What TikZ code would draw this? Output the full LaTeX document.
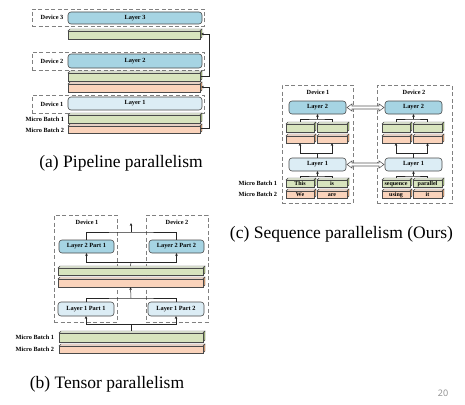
\documentclass[tikz,border=0pt]{standalone}
\usepackage{fontspec}
\setmainfont{Liberation Serif}
\newfontfamily\pnfont{Open Sans}
\usetikzlibrary{arrows.meta,calc}
\definecolor{edge}{HTML}{4A4A4A}
\definecolor{greenf}{HTML}{D8E4BE}
\definecolor{greent}{HTML}{EAF0DD}
\definecolor{greens}{HTML}{A3B97A}
\definecolor{orangef}{HTML}{FAD3BB}
\definecolor{oranget}{HTML}{FDE5D7}
\definecolor{oranges}{HTML}{DB9E72}
\definecolor{ldark}{HTML}{A6D4E3}
\definecolor{llight}{HTML}{DCEDF5}
\tikzset{
  every node/.style={inner sep=0pt, outer sep=0pt},
  lbl/.style={font=\fontsize{6.3}{7}\selectfont\bfseries},
  barlbl/.style={font=\fontsize{6}{7}\selectfont\bfseries, text height=4.1pt, text depth=0.9pt},
  dev/.style={draw=black!50, dash pattern=on 4pt off 2.5pt, line width=0.9pt},
  layerdark/.style={draw=edge, fill=ldark, rounded corners=3pt, line width=0.6pt, lbl},
  layerlight/.style={draw=edge, fill=llight, rounded corners=3pt, line width=0.6pt, lbl},
  conn/.style={draw=black!85, line width=0.5pt},
  arr/.style={conn, -{Stealth[length=3pt,width=2.6pt]}},
  fatarrow/.style={draw=black!65, fill=white, line width=0.6pt, line join=miter},
  capt/.style={font=\fontsize{17.5}{20}\selectfont, anchor=base},
}
% box node: name x1 y1 x2 y2 style text
\newcommand\mkbox[7]{%
  \node[#6, minimum width={(#4-#2)*1pt}, minimum height={(#5-#3)*1pt}] (#1) at ({(#2+#4)/2},{(#3+#5)/2}) {#7};}
% 3D bar: name x1 y1 x2 y2 colour text
\newcommand\mkbar[7]{%
  \filldraw[draw=edge, fill=#6t, line width=0.4pt] (#2,#3) -- (#2+2,#3-2) -- (#4+2,#3-2) -- (#4,#3) -- cycle;
  \filldraw[draw=edge, fill=#6s, line width=0.4pt] (#4,#3) -- (#4+2,#3-2) -- (#4+2,#5-2) -- (#4,#5) -- cycle;
  \mkbox{#1}{#2}{#3}{#4}{#5}{draw=edge, fill=#6f, line width=0.4pt, barlbl}{#7}
  \coordinate (#1-t) at ({(#2+#4)/2},#3-2);
  \coordinate (#1-r) at (#4+1,{(#3+#5)/2-1});}
% hollow double arrow between two nodes (left east, right west)
\newcommand\fatarrow[2]{%
  \draw[fatarrow] ([xshift=1pt]#1.east) -- ++(5,-3.6) -- ++(0,2.1)
    -- ($(#2.west)+(-6,-1.5)$) -- ++(0,-2.1) -- ([xshift=-1pt]#2.west)
    -- ++(-5,3.6) -- ++(0,-2.1) -- ($(#1.east)+(6,1.5)$) -- ++(0,2.1) -- cycle;}
\begin{document}
\begin{tikzpicture}[x=1pt,y=-1pt]
\useasboundingbox (0,0) rectangle (465,404);
% ---------------- (a) Pipeline ----------------
\mkbox{ad3}{32}{9}{204}{26}{dev}{}
\node[lbl] (ad3l) at (52,17.5) {Device 3};
\mkbox{al3}{68}{12}{202}{24}{layerdark}{Layer 3}
\mkbar{ag3}{68}{31}{200}{39}{green}{}
\mkbox{ad2}{32}{52}{204}{70}{dev}{}
\node[lbl] (ad2l) at (52,61) {Device 2};
\mkbox{al2}{68}{54}{202}{68}{layerdark}{Layer 2}
\mkbar{ag2}{68}{73}{200}{81}{green}{}
\mkbar{ao2}{68}{84}{200}{92}{orange}{}
\mkbox{ad1}{32}{95}{204}{113}{dev}{}
\node[lbl] (ad1l) at (52,104) {Device 1};
\mkbox{al1}{68}{97}{202}{110}{layerlight}{Layer 1}
\mkbar{amb1}{68}{115}{200}{123}{green}{}
\mkbar{amb2}{68}{126}{200}{133}{orange}{}
\node[lbl, anchor=east] (amb1l) at (64,119) {Micro Batch 1};
\node[lbl, anchor=east] (amb2l) at (64,130) {Micro Batch 2};
\draw[arr] (ag2-r) -- ++(8,0) |- (ag3-r);
\draw[arr] (amb2-r) -- ++(8,0) |- (ao2-r);
\node[capt] (capa) at (121,167) {(a) Pipeline parallelism};
% ---------------- (b) Tensor ----------------
\mkbox{bd1}{54}{215}{117}{322}{dev}{}
\mkbox{bd2}{146}{215}{208}{322}{dev}{}
\node[lbl] (bd1l) at (87,222) {Device 1};
\node[lbl] (bd2l) at (177,222) {Device 2};
\mkbox{bl2a}{59}{240}{114}{253}{layerdark}{Layer 2 Part 1}
\mkbox{bl2b}{149}{240}{204}{253}{layerdark}{Layer 2 Part 2}
\mkbar{bg}{58}{268}{203}{275}{green}{}
\mkbar{bo}{58}{279}{203}{287}{orange}{}
\mkbox{bl1a}{58}{302}{114}{316}{layerlight}{Layer 1 Part 1}
\mkbox{bl1b}{148}{302}{204}{316}{layerlight}{Layer 1 Part 2}
\mkbar{bmb1}{59}{333}{203}{342}{green}{}
\mkbar{bmb2}{59}{346}{203}{353}{orange}{}
\node[lbl, anchor=east] (bmb1l) at (54,337.5) {Micro Batch 1};
\node[lbl, anchor=east] (bmb2l) at (54,349.5) {Micro Batch 2};
\coordinate (bj1) at (131,324);
\coordinate (bj2) at (131,298);
\coordinate (bj3) at (131,262);
\coordinate (bj4) at (131,232);
\coordinate (btip) at (131,223);
\draw[conn] (bmb1-t) -- (bj1);
\draw[arr] (bj1) -| (bl1a.south);
\draw[arr] (bj1) -| (bl1b.south);
\draw[conn] (bl1a.north) |- (bj2) -| (bl1b.north);
\draw[arr] (bj2) -- (bo.south);
\draw[conn] (bg-t) -- (bj3);
\draw[arr] (bj3) -| (bl2a.south);
\draw[arr] (bj3) -| (bl2b.south);
\draw[conn] (bl2a.north) |- (bj4) -| (bl2b.north);
\draw[arr] (bj4) -- (btip);
\node[capt] (capb) at (107,388) {(b) Tensor parallelism};
% ---------------- (c) Sequence ----------------
\mkbox{cd1}{282}{85}{353}{203}{dev}{}
\mkbox{cd2}{377}{85}{452}{203}{dev}{}
\node[lbl] (cd1l) at (318,92) {Device 1};
\node[lbl] (cd2l) at (414,92) {Device 2};
\mkbox{c1l2}{289}{101}{346}{114}{layerdark}{Layer 2}
\mkbox{c2l2}{385}{101}{442}{114}{layerdark}{Layer 2}
\mkbox{c1l1}{289}{158}{346}{171}{layerlight}{Layer 1}
\mkbox{c2l1}{385}{158}{442}{171}{layerlight}{Layer 1}
% device 1 bars
\mkbar{c1ga}{286}{124}{314}{132}{green}{}
\mkbar{c1gb}{317}{124}{347}{132}{green}{}
\mkbar{c1oa}{286}{136}{314}{143}{orange}{}
\mkbar{c1ob}{317}{136}{347}{143}{orange}{}
\mkbar{c1ma}{286}{180}{314}{187}{green}{This}
\mkbar{c1mb}{317}{180}{347}{187}{green}{is}
\mkbar{c1na}{286}{191}{314}{198}{orange}{We}
\mkbar{c1nb}{317}{191}{347}{198}{orange}{are}
% device 2 bars
\mkbar{c2ga}{382}{124}{410}{132}{green}{}
\mkbar{c2gb}{413}{124}{442}{132}{green}{}
\mkbar{c2oa}{382}{136}{410}{143}{orange}{}
\mkbar{c2ob}{413}{136}{442}{143}{orange}{}
\mkbar{c2ma}{382}{180}{410}{187}{green}{sequence}
\mkbar{c2mb}{413}{180}{442}{187}{green}{parallel}
\mkbar{c2na}{382}{191}{410}{198}{orange}{using}
\mkbar{c2nb}{413}{191}{442}{198}{orange}{it}
\node[lbl, anchor=east] (cmb1l) at (277,183.5) {Micro Batch 1};
\node[lbl, anchor=east] (cmb2l) at (277,194.5) {Micro Batch 2};
% connectors device 1
\coordinate (c1j1) at (317.5,119);
\coordinate (c1j2) at (317.5,153);
\coordinate (c1j3) at (317.5,176);
\draw[conn] (c1ga-t) |- (c1j1) -| (c1gb-t);
\draw[arr] (c1j1) -- (c1l2.south);
\draw[conn] (c1l1.north) -- (c1j2);
\draw[arr] (c1j2) -| (c1oa.south);
\draw[arr] (c1j2) -| (c1ob.south);
\draw[conn] (c1ma-t) |- (c1j3) -| (c1mb-t);
\draw[arr] (c1j3) -- (c1l1.south);
% connectors device 2
\coordinate (c2j1) at (413.5,119);
\coordinate (c2j2) at (413.5,153);
\coordinate (c2j3) at (413.5,176);
\draw[conn] (c2ga-t) |- (c2j1) -| (c2gb-t);
\draw[arr] (c2j1) -- (c2l2.south);
\draw[conn] (c2l1.north) -- (c2j2);
\draw[arr] (c2j2) -| (c2oa.south);
\draw[arr] (c2j2) -| (c2ob.south);
\draw[conn] (c2ma-t) |- (c2j3) -| (c2mb-t);
\draw[arr] (c2j3) -- (c2l1.south);
% exchange arrows
\fatarrow{c1l2}{c2l2}
\fatarrow{c1l1}{c2l1}
\node[capt] (capc) at (341.5,238) {(c) Sequence parallelism (Ours)};
% page number
\node[font=\pnfont\fontsize{9}{10}\selectfont, text=black!45] (pn) at (443,393) {20};
\end{tikzpicture}
\end{document}
